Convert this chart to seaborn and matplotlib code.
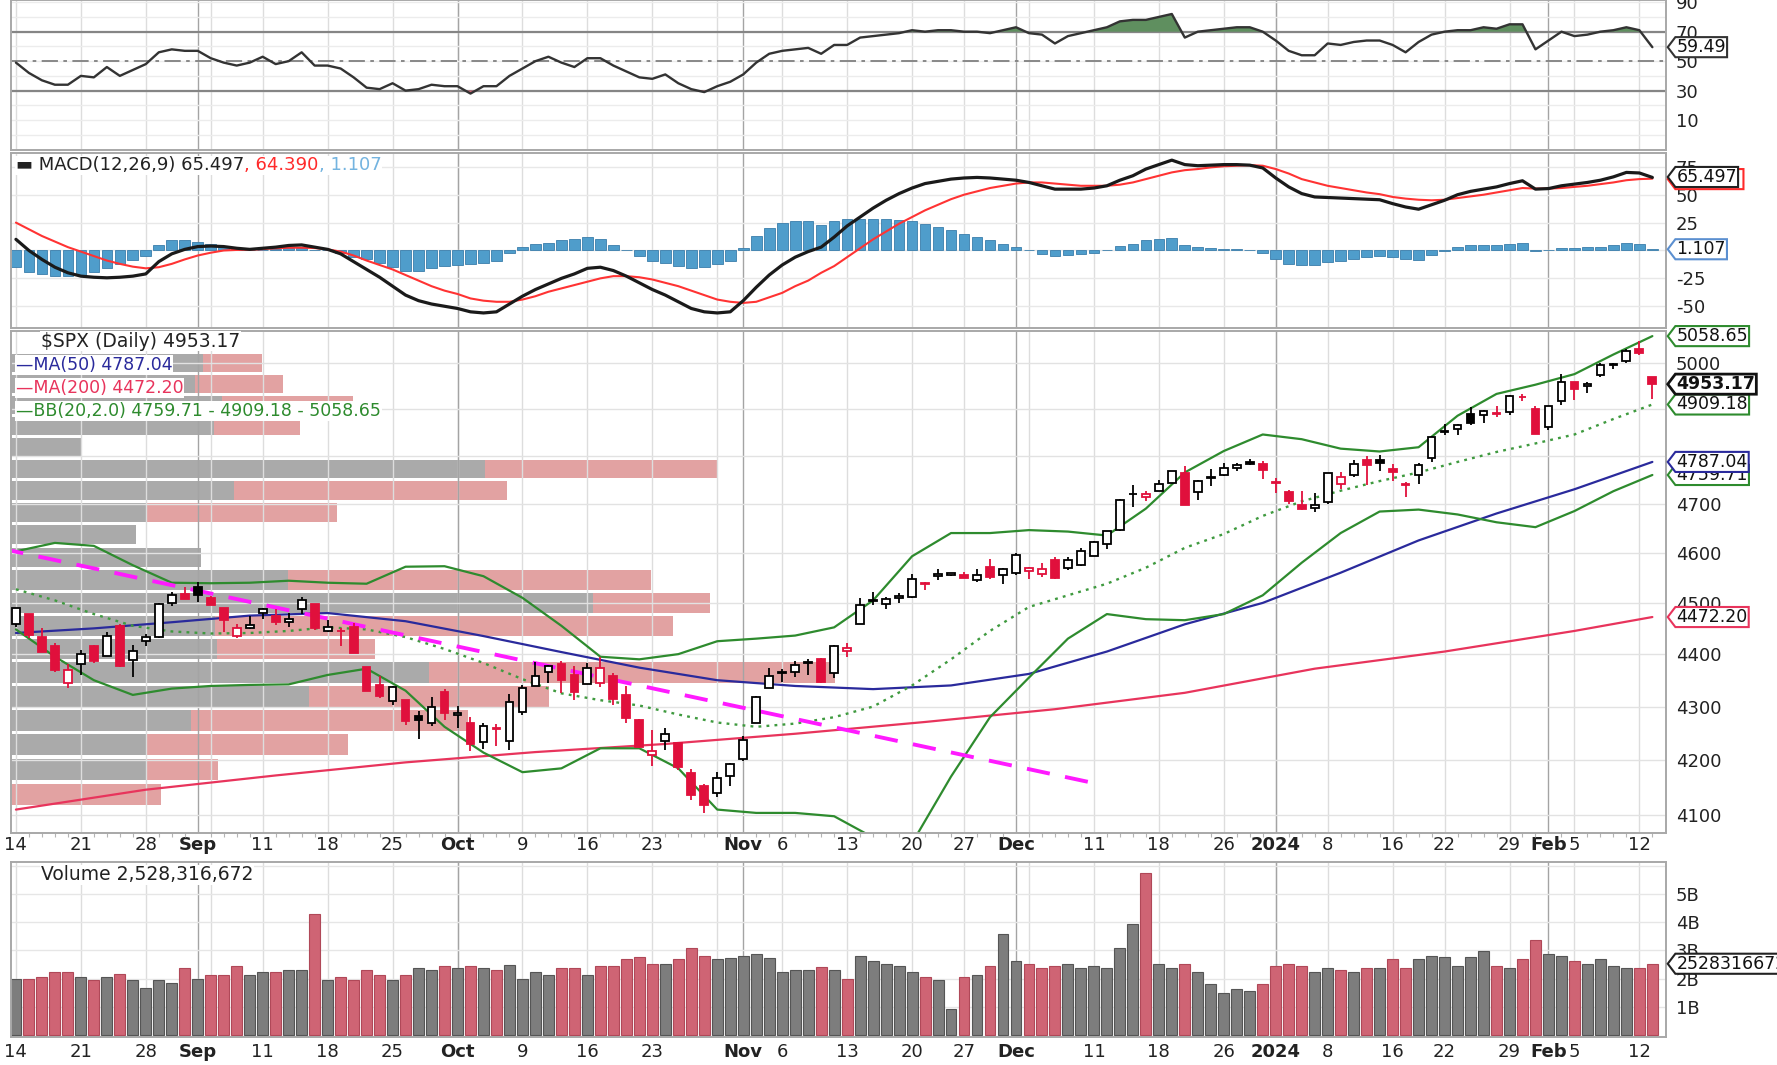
#!/usr/bin/env python3
# -*- coding: utf-8 -*-
"""
$SPX daily chart: RSI / MACD / candles with MAs, Bollinger bands and
volume-by-price / volume.
"""

import numpy as np
import pandas as pd
import matplotlib
matplotlib.use("Agg")
import matplotlib.pyplot as plt
from matplotlib.path import Path
from matplotlib.ticker import FixedLocator, FixedFormatter, NullLocator
import seaborn as sns

# ---------------- data ----------------
prior_close = 4464.1

opens = [4458.1, 4478.9, 4433.8, 4416.3, 4344.9, 4380.3, 4415.3, 4396.4, 4455.2, 4389.4,
         4426.0, 4432.8, 4500.3, 4517.0, 4530.6, 4510.1, 4490.4, 4434.6, 4451.3, 4481.0,
         4473.3, 4462.7, 4487.8, 4498.0, 4445.1, 4445.4, 4452.8, 4374.4, 4341.7, 4310.6,
         4312.9, 4282.6, 4269.7, 4328.2, 4284.5, 4269.8, 4233.8, 4259.3, 4234.8, 4289.0,
         4339.8, 4366.6, 4380.9, 4360.5, 4342.4, 4345.2, 4357.4, 4321.4, 4273.9, 4210.4,
         4235.8, 4232.4, 4176.0, 4152.9, 4139.4, 4171.3, 4201.3, 4268.3, 4334.2, 4364.3,
         4366.2, 4384.4, 4391.4, 4364.2, 4406.7, 4459.0, 4505.3, 4497.1, 4509.6, 4511.7,
         4538.8, 4553.0, 4555.8, 4554.9, 4545.6, 4571.8, 4554.9, 4559.4, 4564.4, 4557.3,
         4586.2, 4568.8, 4576.2, 4593.4, 4618.3, 4646.2, 4721.0, 4714.2, 4725.6, 4743.7,
         4764.7, 4724.3, 4753.9, 4758.9, 4773.5, 4786.4, 4782.9, 4745.2, 4725.1, 4697.4,
         4690.6, 4703.7, 4741.9, 4759.9, 4792.1, 4791.2, 4772.4, 4739.1, 4760.1, 4796.3,
         4853.4, 4856.8, 4888.6, 4886.7, 4888.9, 4893.0, 4925.9, 4899.2, 4861.1, 4916.1,
         4957.2, 4950.2, 4973.1, 4995.2, 5004.2, 5031.1, 4967.9]

highs = [4490.3, 4478.9, 4450.0, 4421.2, 4381.8, 4407.6, 4418.6, 4443.2, 4458.3, 4418.5,
         4439.6, 4500.1, 4521.7, 4532.3, 4541.3, 4514.3, 4490.4, 4457.8, 4473.5, 4490.8,
         4487.1, 4479.4, 4512.0, 4498.0, 4466.4, 4449.9, 4461.0, 4375.7, 4357.4, 4338.5,
         4313.0, 4292.1, 4317.3, 4333.2, 4300.6, 4281.2, 4268.5, 4267.1, 4324.1, 4341.7,
         4385.5, 4378.6, 4385.9, 4377.1, 4383.3, 4393.6, 4364.2, 4339.5, 4276.6, 4255.8,
         4259.4, 4232.4, 4183.6, 4156.7, 4177.5, 4195.6, 4245.6, 4319.7, 4373.6, 4372.2,
         4386.3, 4391.2, 4393.4, 4418.0, 4421.8, 4508.7, 4521.2, 4512.0, 4520.1, 4557.1,
         4542.1, 4568.4, 4560.3, 4562.1, 4568.1, 4587.6, 4569.9, 4599.4, 4572.4, 4578.6,
         4590.7, 4590.9, 4609.2, 4623.4, 4643.9, 4709.7, 4738.6, 4725.5, 4749.5, 4768.7,
         4778.0, 4748.7, 4772.9, 4784.7, 4785.4, 4793.3, 4788.4, 4754.3, 4729.3, 4726.8,
         4721.5, 4764.5, 4765.5, 4790.8, 4798.5, 4802.4, 4782.3, 4744.2, 4785.8, 4842.1,
         4868.4, 4866.5, 4903.7, 4898.2, 4906.7, 4929.3, 4931.1, 4906.8, 4907.0, 4975.3,
         4957.2, 4957.8, 4999.9, 5000.4, 5030.1, 5048.4, 4969.3]

lows = [4453.4, 4432.2, 4403.6, 4364.8, 4335.3, 4360.3, 4382.8, 4396.4, 4375.6, 4356.3,
        4415.0, 4431.7, 4493.6, 4507.4, 4501.4, 4496.0, 4442.4, 4430.5, 4448.4, 4467.9,
        4456.8, 4453.5, 4478.7, 4447.2, 4442.1, 4416.6, 4401.4, 4329.2, 4316.5, 4302.7,
        4266.0, 4238.6, 4264.4, 4274.9, 4260.2, 4216.5, 4220.5, 4225.9, 4219.6, 4283.8,
        4339.6, 4345.3, 4325.4, 4312.0, 4342.4, 4337.5, 4303.8, 4269.7, 4223.0, 4189.2,
        4219.4, 4181.4, 4127.9, 4103.8, 4132.9, 4153.1, 4197.7, 4268.3, 4334.2, 4347.5,
        4355.4, 4359.8, 4343.9, 4353.3, 4393.8, 4459.0, 4495.3, 4487.8, 4499.7, 4510.4,
        4525.5, 4545.1, 4552.8, 4549.5, 4540.5, 4547.2, 4537.2, 4554.7, 4546.7, 4551.7,
        4546.5, 4565.2, 4574.1, 4593.4, 4608.1, 4643.2, 4694.3, 4704.7, 4725.6, 4743.7,
        4697.8, 4708.4, 4736.8, 4758.5, 4768.9, 4781.0, 4752.0, 4722.7, 4699.7, 4687.5,
        4682.1, 4699.8, 4730.4, 4756.2, 4739.6, 4769.0, 4747.1, 4714.8, 4740.6, 4785.9,
        4844.1, 4844.4, 4865.9, 4869.3, 4881.5, 4887.4, 4916.3, 4845.2, 4853.5, 4908.0,
        4918.1, 4934.9, 4969.1, 4987.1, 5000.3, 5016.3, 4920.3]

closes = [4489.7, 4437.9, 4404.3, 4370.4, 4369.7, 4399.8, 4387.6, 4436.0, 4376.3, 4405.7,
          4433.3, 4497.6, 4514.9, 4507.7, 4515.8, 4496.8, 4465.5, 4451.1, 4457.5, 4487.5,
          4461.9, 4467.4, 4505.1, 4450.3, 4453.5, 4444.0, 4402.2, 4330.0, 4320.1, 4337.4,
          4273.5, 4274.5, 4299.7, 4288.1, 4288.4, 4229.5, 4263.8, 4258.2, 4308.5, 4335.7,
          4358.2, 4377.0, 4349.6, 4327.8, 4373.6, 4373.2, 4314.6, 4278.0, 4224.2, 4217.0,
          4247.7, 4186.8, 4137.2, 4117.4, 4166.8, 4193.8, 4237.9, 4317.8, 4358.3, 4366.0,
          4378.4, 4382.8, 4347.4, 4415.2, 4411.6, 4495.7, 4502.9, 4508.2, 4514.0, 4547.4,
          4538.2, 4556.6, 4559.3, 4550.4, 4554.9, 4550.6, 4567.8, 4594.6, 4569.8, 4567.2,
          4549.3, 4585.6, 4604.4, 4622.4, 4643.7, 4707.1, 4719.6, 4719.2, 4740.6, 4768.4,
          4698.4, 4746.8, 4754.6, 4774.8, 4781.6, 4783.4, 4769.8, 4742.8, 4704.8, 4688.7,
          4697.2, 4763.5, 4756.5, 4783.5, 4780.2, 4783.8, 4766.0, 4739.2, 4780.9, 4839.8,
          4850.4, 4864.6, 4868.6, 4894.2, 4891.0, 4927.9, 4925.0, 4845.7, 4906.2, 4958.6,
          4942.8, 4954.2, 4995.1, 4997.9, 5026.6, 5021.8, 4953.17]

# volume in billions of shares
volume = [1.99, 1.99, 2.06, 2.24, 2.24, 2.06, 1.94, 2.05, 2.15, 1.94,
          1.67, 1.94, 1.85, 2.38, 1.99, 2.14, 2.14, 2.44, 2.14, 2.24,
          2.24, 2.32, 2.32, 4.31, 1.94, 2.06, 1.96, 2.32, 2.14, 1.94,
          2.14, 2.38, 2.32, 2.44, 2.38, 2.44, 2.38, 2.32, 2.50, 1.99,
          2.24, 2.14, 2.38, 2.38, 2.14, 2.44, 2.44, 2.68, 2.77, 2.52,
          2.52, 2.70, 3.08, 2.82, 2.68, 2.74, 2.80, 2.89, 2.74, 2.24,
          2.32, 2.32, 2.42, 2.32, 1.99, 2.80, 2.62, 2.52, 2.45, 2.23,
          2.06, 1.94, 0.92, 2.06, 2.14, 2.44, 3.57, 2.62, 2.52, 2.36,
          2.44, 2.52, 2.36, 2.44, 2.36, 3.10, 3.93, 5.77, 2.52, 2.36,
          2.52, 2.23, 1.79, 1.49, 1.63, 1.57, 1.79, 2.44, 2.52, 2.44,
          2.23, 2.36, 2.30, 2.23, 2.38, 2.38, 2.70, 2.36, 2.70, 2.80,
          2.77, 2.44, 2.77, 2.98, 2.44, 2.36, 2.70, 3.37, 2.89, 2.80,
          2.62, 2.52, 2.70, 2.44, 2.36, 2.36, 2.528]

rsi = [49, 42, 37, 34, 34, 40, 39, 46, 40, 44,
       48, 56, 58, 57, 57, 52, 49, 47, 49, 53,
       48, 50, 56, 47, 47, 45, 39, 32, 31, 35,
       30, 31, 34, 33, 33, 28, 33, 33, 40, 45,
       50, 53, 49, 46, 52, 52, 47, 43, 39, 38,
       41, 35, 31, 29, 33, 36, 41, 49, 55, 57,
       58, 59, 55, 61, 61, 66, 67, 68, 69, 71,
       70, 71, 71, 70, 70, 69, 71, 73, 69, 68,
       62, 67, 69, 71, 73, 77, 78, 78, 80, 82,
       66, 70, 71, 72, 73, 73, 70, 64, 57, 54,
       54, 62, 61, 63, 64, 64, 61, 56, 63, 68,
       70, 71, 71, 73, 72, 75, 75, 58, 64, 70,
       67, 68, 70, 71, 73, 71, 59.49]

macd = [10, 0, -8, -15, -20, -23, -24, -24.5, -24, -23,
        -21, -10, -3, 1, 3.5, 4, 3.5, 2, 1, 2,
        3, 4.5, 5, 3, 1, -3, -10, -17, -24, -32,
        -40, -45, -48, -50, -52, -55, -56, -55, -48, -41,
        -35, -30, -25, -21, -16, -15, -18, -23, -29, -35,
        -40, -46, -52, -55, -56, -55, -45, -33, -22, -13,
        -6, -1, 3, 12, 22, 30, 38, 45, 51, 56,
        60, 62, 64, 65, 65.5, 65, 64, 63, 61, 58,
        55, 55, 55, 56, 58, 63, 67, 73, 77, 81,
        77, 76, 76.5, 77, 77, 76.5, 74, 65, 57, 51,
        48, 47.5, 47, 46.5, 46, 45.5, 42, 39, 37, 41,
        45, 50, 53, 55, 57, 60, 62.5, 55, 55.5, 58,
        59.5, 61, 63, 66, 70, 69.5, 65.497]

signal = [25, 19, 13, 8, 3, -1, -5, -9, -12, -14.5,
          -16, -15, -12, -8, -4.5, -2, 0, 0.5, 0.6, 1.2,
          2, 2.5, 2.5, 2.2, 1, -1, -4.5, -9, -13, -17,
          -22, -27, -32, -36, -39, -43, -45, -46, -46, -44,
          -41, -37, -34, -31, -28, -25, -23, -23, -24, -26,
          -29, -32, -36, -40, -44, -46, -47, -46, -42, -38,
          -32, -27, -20, -14, -6, 2, 10, 17, 24, 30,
          36, 41, 46, 50, 53, 56, 58, 60, 61, 61,
          60, 59, 58, 58, 58, 59, 61, 64, 67, 70,
          72, 73, 74.5, 75.5, 76, 76.5, 76, 73, 69, 64,
          61, 58, 56, 54, 52, 50.5, 48, 46.5, 45.5, 45,
          45.5, 47, 48.5, 50, 52, 54, 56, 55.5, 55.5, 56,
          57, 58, 59.5, 61, 63, 64, 64.39]

hist = [-15, -19, -21, -23, -23, -22, -19, -15.5, -12, -8.5,
        -5, 5, 9, 9, 8, 6, 3.5, 1.5, 0.4, 0.8,
        1, 2, 2.5, 0.8, 0, -2, -5.5, -8, -11, -15,
        -18, -18, -16, -14, -13, -12, -11, -9, -2, 3,
        6, 7, 9, 10, 12, 10, 5, 0, -5, -9,
        -11, -14, -16, -15, -12, -9, 2, 13, 20, 25,
        26, 26, 23, 26, 28, 28, 28, 28, 27, 26,
        24, 21, 18, 15, 12.5, 9, 6, 3, 0, -3,
        -5, -4, -3, -2, 0, 4, 6, 9, 10, 11,
        5, 3, 2, 1.5, 1, 0, -2, -8, -12, -13,
        -13, -10.5, -9, -7.5, -6, -5, -6, -7.5, -8.5, -4,
        -0.5, 3, 4.5, 5, 5, 6, 6.5, -0.5, 0, 2,
        2.5, 3, 3.5, 5, 7, 5.5, 1.107]

# moving averages, sampled along the day index
ma50_idx = [0, 6, 12, 18, 24, 30, 36, 42, 48, 54, 60, 66, 72, 78, 84, 90, 96, 102, 108, 114, 120, 126]
ma50 = [4441, 4450, 4462, 4475, 4480, 4464, 4435, 4404, 4374, 4350, 4339,
        4333, 4340, 4362, 4405, 4458, 4500, 4560, 4625, 4680, 4730, 4787.04]

ma200_idx = [0, 10, 20, 30, 40, 50, 60, 70, 80, 90, 100, 110, 120, 126]
ma200 = [4110, 4146, 4172, 4196, 4215, 4230, 4249, 4271, 4295, 4326, 4372, 4405, 4445, 4472.2]

# Bollinger bands (20, 2.0), sampled every 3rd day
bb_idx = list(range(0, 127, 3))
bb_mid = [4527, 4505, 4478, 4455, 4444, 4440, 4441, 4445, 4452, 4448,
          4433, 4410, 4383, 4352, 4325, 4312, 4302, 4285, 4270, 4262,
          4268, 4280, 4300, 4340, 4390, 4445, 4492, 4515, 4538, 4570,
          4610, 4638, 4675, 4705, 4727, 4747, 4765, 4787, 4808, 4826,
          4845, 4878, 4909.18]
bb_up = [4603, 4620, 4614, 4575, 4540, 4539, 4540, 4544, 4540, 4538,
         4572, 4573, 4553, 4510, 4455, 4395, 4390, 4400, 4425, 4430,
         4436, 4452, 4505, 4593, 4640, 4640, 4646, 4643, 4635, 4690,
         4765, 4810, 4845, 4835, 4815, 4809, 4818, 4885, 4932, 4952,
         4975, 5018, 5058.65]
bb_lo = [4448, 4395, 4350, 4322, 4334, 4339, 4341, 4342, 4360, 4372,
         4330, 4262, 4214, 4178, 4185, 4222, 4222, 4185, 4110, 4104,
         4104, 4098, 4060, 4050, 4170, 4280, 4355, 4430, 4478, 4468,
         4466, 4478, 4515, 4580, 4640, 4684, 4688, 4678, 4662, 4652,
         4685, 4726, 4759.71]

# hand-drawn trend line (end points)
trend_idx = [-1.2, 83.2]
trend_px = [4609, 4157]

# volume by price, 20 price zones from bottom to top (up / down volume)
vbp_up = [0, 12.0, 12.0, 15.9, 26.3, 36.9, 18.2, 18.0, 51.3, 24.4,
          16.8, 11.0, 12.0, 19.7, 41.8, 6.3, 17.9, 18.6, 16.2, 16.9]
vbp_down = [13.2, 6.3, 17.7, 24.4, 21.2, 35.8, 13.9, 40.4, 10.4, 32.1,
            0, 0, 16.8, 24.1, 20.5, 0, 7.6, 11.6, 7.8, 5.2]
vbp_low, vbp_high = 4115, 5022

# date axis
week_idx = [0, 5, 10, 15, 19, 24, 29, 34, 39, 44, 49, 54, 59, 64, 69, 73, 78,
            83, 88, 93, 97, 101, 106, 110, 115, 120, 125]
month_idx = [14, 34, 56, 77, 97, 118]
tick_idx = [0, 5, 10, 14, 19, 24, 29, 34, 39, 44, 49, 56, 59, 64, 69, 73, 77,
            83, 88, 93, 97, 101, 106, 110, 115, 118, 120, 125]
tick_lbl = ['14', '21', '28', 'Sep', '11', '18', '25', 'Oct', '9', '16', '23',
            'Nov', '6', '13', '20', '27', 'Dec', '11', '18', '26', '2024', '8',
            '16', '22', '29', 'Feb', '5', '12']

# ---------------- style ----------------
sns.set_theme(style="white")
plt.rcParams['font.family'] = ['DejaVu Sans']

RED = '#e0103c'
GREEN = '#2e8b2e'
NAVY = '#2a2a9c'
MA200_RED = '#e8345c'
VOL_GRAY = '#7d7d7d'
VOL_RED = '#cf6474'
VBP_GRAY = '#aaaaaa'
VBP_RED = '#e2a2a2'

X0, X1 = -0.38, 127.05


def tag_shape(x0, y0, width, height, mutation_size):
    """Price tag: box with a small point on the left."""
    pad = 0.06 * mutation_size
    x0, y0 = x0 - pad, y0 - pad
    x1, y1 = x0 + width + 2 * pad, y0 + height + 2 * pad
    tip = 0.38 * (y1 - y0)
    ym = (y0 + y1) / 2
    verts = [(x0 - tip, ym), (x0, y1), (x1, y1), (x1, y0), (x0, y0), (x0 - tip, ym)]
    return Path(verts, closed=True)


def tag(ax, y, text, ec, lw=1.5, bold=False):
    ax.annotate(text, xy=(1.0, y), xycoords=('axes fraction', 'data'),
                xytext=(7.5, 0), textcoords='offset points', ha='left', va='center',
                fontsize=12.5, color='#111', fontweight='bold' if bold else 'normal',
                bbox=dict(boxstyle=tag_shape, fc='white', ec=ec, lw=lw),
                annotation_clip=False, zorder=20)


def base(ax, days):
    ax.set_facecolor('white')
    for i in week_idx:
        ax.axvline(i, color='#dddddd', lw=1.0, zorder=0)
    for i in month_idx:
        ax.axvline(i, color='#a4a4a4', lw=1.0, zorder=0)
    for s in ax.spines.values():
        s.set_color('#a8a8a8')
        s.set_linewidth(1.4)
    ax.yaxis.tick_right()
    ax.tick_params(axis='y', which='both', length=0, pad=7, labelsize=13, labelcolor='#222')
    ax.set_xticks(tick_idx)
    ax.set_xticklabels([])
    ax.set_xticks(days, minor=True)
    ax.tick_params(axis='x', which='both', length=0)


def date_labels(ax, pad):
    ax.set_xticklabels(tick_lbl)
    for t, lab in zip(ax.get_xticklabels(), tick_lbl):
        if not lab.isdigit() or lab == '2024':
            t.set_fontweight('bold')
    ax.tick_params(axis='x', which='major', labelsize=13, pad=pad, labelcolor='#222')
    ax.tick_params(axis='x', which='minor', length=3, width=0.8, color='#b4b4b4')


def set_yticks(ax, ticks, labels):
    ax.yaxis.set_major_locator(FixedLocator(ticks))
    ax.yaxis.set_major_formatter(FixedFormatter(labels))
    ax.yaxis.set_minor_locator(NullLocator())


def main():
    df = pd.DataFrame({'open': opens, 'high': highs, 'low': lows, 'close': closes,
                       'volume': volume, 'rsi': rsi, 'macd': macd,
                       'signal': signal, 'hist': hist})
    days = np.arange(len(df))
    prev = np.r_[prior_close, df['close'].values[:-1]]
    up = df['close'].values >= prev
    edge = np.where(up, 'black', RED)
    face = np.where(df['close'].values > df['open'].values, 'white', edge)

    fig = plt.figure(figsize=(17.77, 10.65), dpi=100)
    L, W = 11 / 1777, 1655 / 1777

    def rect(top, bottom):
        return [L, 1 - bottom / 1065, W, (bottom - top) / 1065]

    ax_rsi = fig.add_axes(rect(0, 150))
    ax_macd = fig.add_axes(rect(153, 328))
    ax_px = fig.add_axes(rect(331, 833))
    ax_vol = fig.add_axes(rect(862, 1037))

    # ---- RSI ----
    base(ax_rsi, days)
    for v in range(0, 100, 10):
        ax_rsi.axhline(v, color='#ececec', lw=1.0, zorder=0)
    ax_rsi.axhline(70, color='#858585', lw=1.6, zorder=1)
    ax_rsi.axhline(30, color='#858585', lw=1.6, zorder=1)
    ax_rsi.axhline(50, color='#808080', lw=1.3, ls=(0, (9, 3, 2, 3)), zorder=1)
    r = df['rsi'].values
    ax_rsi.fill_between(days, r, 70, where=r > 70, interpolate=True,
                        color='#5f8f5f', lw=0, zorder=2)
    ax_rsi.fill_between(days, r, 30, where=r < 30, interpolate=True,
                        color='#d06070', lw=0, zorder=2)
    sns.lineplot(x=days, y=r, ax=ax_rsi, color='#333333', linewidth=1.7, zorder=3)
    ax_rsi.set(xlabel='', ylabel='')
    ax_rsi.set_xlim(X0, X1)
    ax_rsi.set_ylim(-10.3, 91.5)
    set_yticks(ax_rsi, [10, 30, 50, 70, 90], ['10', '30', '50', '70', '90'])
    tag(ax_rsi, 59.49, '59.49', '#333333')

    # ---- MACD ----
    base(ax_macd, days)
    for v in [-50, -25, 0, 25, 50, 75]:
        ax_macd.axhline(v, color='#e8e8e8', lw=1.0, zorder=0)
    ax_macd.bar(days, df['hist'], width=0.82, color='#4f9dcb', edgecolor='#3a7dab',
                linewidth=0.6, zorder=2)
    sns.lineplot(x=days, y=df['signal'], ax=ax_macd, color='#ff3333', linewidth=1.5, zorder=3)
    sns.lineplot(x=days, y=df['macd'], ax=ax_macd, color='#1a1a1a', linewidth=2.3, zorder=4)
    ax_macd.set(xlabel='', ylabel='')
    ax_macd.set_xlim(X0, X1)
    ax_macd.set_ylim(-69.5, 87.4)
    set_yticks(ax_macd, [-50, -25, 25, 50, 75], ['-50', '-25', '25', '50', '75'])
    t1 = ax_macd.text(0.003, 0.93, '\u25ac MACD(12,26,9) 65.497', transform=ax_macd.transAxes,
                      fontsize=13, color='#222', ha='left', va='center', zorder=6,
                      bbox=dict(fc='white', ec='none', pad=0.5))
    t2 = ax_macd.annotate(', 64.390', xy=(1, 0.5), xycoords=t1, ha='left', va='center',
                          fontsize=13, color='#ff2a2a', zorder=6,
                          bbox=dict(fc='white', ec='none', pad=0.5))
    ax_macd.annotate(', 1.107', xy=(1, 0.5), xycoords=t2, ha='left', va='center',
                     fontsize=13, color='#74b4e0', zorder=6,
                     bbox=dict(fc='white', ec='none', pad=0.5))
    # signal tag sits just behind the MACD tag; only its red edge shows
    tag(ax_macd, 64.0, '\u2007' * 6, '#ff2a2a')
    tag(ax_macd, 65.9, '65.497', '#222222')
    tag(ax_macd, 1.107, '1.107', '#5b8fd0')

    # ---- price ----
    ax_px.set_yscale('log')
    base(ax_px, days)
    for v in range(4100, 5100, 100):
        ax_px.axhline(v, color='#e2e2e2', lw=1.0, zorder=0)

    # volume-by-price zones behind the candles
    ax_vbp = ax_px.twiny()
    step = (vbp_high - vbp_low) / len(vbp_up)
    mids = vbp_low + step * (np.arange(len(vbp_up)) + 0.5)
    ax_vbp.barh(mids, vbp_up, height=step * 0.86, left=0, color=VBP_GRAY, lw=0)
    ax_vbp.barh(mids, vbp_down, height=step * 0.86, left=vbp_up, color=VBP_RED, lw=0)
    ax_vbp.set_xlim(0, 146)
    ax_vbp.xaxis.set_visible(False)
    for s in ax_vbp.spines.values():
        s.set_visible(False)
    ax_vbp.set_zorder(ax_px.get_zorder() - 1)
    ax_vbp.patch.set_facecolor('white')
    ax_px.patch.set_visible(False)

    sns.lineplot(x=ma200_idx, y=ma200, ax=ax_px, color=MA200_RED, linewidth=1.6, zorder=2)
    sns.lineplot(x=ma50_idx, y=ma50, ax=ax_px, color=NAVY, linewidth=1.6, zorder=2)
    sns.lineplot(x=bb_idx, y=bb_up, ax=ax_px, color=GREEN, linewidth=1.6, zorder=2)
    sns.lineplot(x=bb_idx, y=bb_lo, ax=ax_px, color=GREEN, linewidth=1.6, zorder=2)
    sns.lineplot(x=bb_idx, y=bb_mid, ax=ax_px, color='#3f9a3f', linewidth=1.7,
                 linestyle=(0, (1.2, 2.2)), zorder=2)
    ax_px.plot(trend_idx, trend_px, color='#ff1aff', lw=2.8, ls=(0, (6, 4)), zorder=2.5)

    o = df['open'].values
    c = df['close'].values
    ax_px.vlines(days, df['low'], df['high'], colors=edge, lw=1.3, zorder=3)
    body_lo = np.minimum(o, c)
    body_h = np.maximum(np.abs(c - o), 0.8)
    ax_px.bar(days, body_h, bottom=body_lo, width=0.6, color=face, edgecolor=edge,
              linewidth=1.3, zorder=4)
    ax_px.set(xlabel='', ylabel='')
    ax_px.set_xlim(X0, X1)
    ax_px.set_ylim(4068, 5070)
    px_ticks = [4100, 4200, 4300, 4400, 4500, 4600, 4700, 5000]
    set_yticks(ax_px, px_ticks, [str(v) for v in px_ticks])
    date_labels(ax_px, 2)

    box = dict(fc='white', ec='none', pad=0.6)
    ax_px.text(0.018, 0.980, r'\$SPX (Daily) 4953.17', transform=ax_px.transAxes,
               fontsize=13.5, color='#222', ha='left', va='center', bbox=box, zorder=6)
    ax_px.text(0.003, 0.932, '\u2014MA(50) 4787.04', transform=ax_px.transAxes,
               fontsize=12.5, color=NAVY, ha='left', va='center', bbox=box, zorder=6)
    ax_px.text(0.003, 0.886, '\u2014MA(200) 4472.20', transform=ax_px.transAxes,
               fontsize=12.5, color=MA200_RED, ha='left', va='center', bbox=box, zorder=6)
    ax_px.text(0.003, 0.841, '\u2014BB(20,2.0) 4759.71 - 4909.18 - 5058.65',
               transform=ax_px.transAxes, fontsize=12.5, color=GREEN, ha='left',
               va='center', bbox=box, zorder=6)

    tag(ax_px, 4759.71, '4759.71', GREEN)
    tag(ax_px, 4787.04, '4787.04', NAVY)
    tag(ax_px, 4909.18, '4909.18', GREEN)
    tag(ax_px, 5058.65, '5058.65', GREEN)
    tag(ax_px, 4472.20, '4472.20', MA200_RED)
    tag(ax_px, 4953.17, '4953.17', '#111111', lw=2.0, bold=True)

    # ---- volume ----
    base(ax_vol, days)
    for v in range(1, 7):
        ax_vol.axhline(v, color='#e6e6e6', lw=1.0, zorder=0)
    vcol = np.where(up, VOL_GRAY, VOL_RED)
    vedge = np.where(up, '#555555', '#b04858')
    ax_vol.bar(days, df['volume'], width=0.84, color=vcol, edgecolor=vedge,
               linewidth=0.8, zorder=2)
    ax_vol.set_xlim(X0, X1)
    ax_vol.set_ylim(-0.08, 6.15)
    set_yticks(ax_vol, [1, 2, 3, 4, 5], ['1B', '2B', '3B', '4B', '5B'])
    date_labels(ax_vol, 4)
    ax_vol.text(0.018, 0.926, 'Volume 2,528,316,672', transform=ax_vol.transAxes,
                fontsize=13.5, color='#222', ha='left', va='center',
                bbox=dict(fc='white', ec='none', pad=0.6), zorder=6)
    tag(ax_vol, 2.528, '2528316672', '#222222')

    fig.savefig('out.png', dpi=100)
    plt.close(fig)


if __name__ == "__main__":
    main()
